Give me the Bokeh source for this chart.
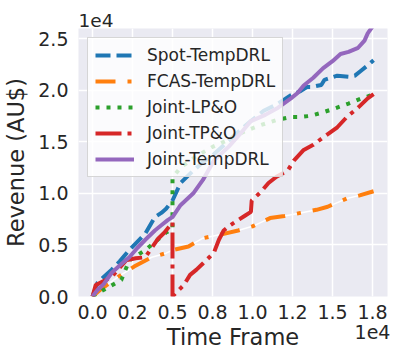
from bokeh.plotting import figure
from bokeh.models import FixedTicker, Legend, LegendItem, Label, Range1d
from bokeh.embed import file_html
from bokeh.resources import INLINE

# ---- data ----
spot_x = [0, 300, 700, 1200, 1700, 2300, 2800, 3300, 3900, 4300, 4600, 5000, 5500, 6300, 6900, 7600,
          8300, 9000, 9900, 10700, 11500, 12000, 12400, 13000, 13400, 13700, 14300, 14500, 15300,
          16000, 16400, 16800, 17200, 17568]
spot_y = [0, 1300, 1900, 2600, 3400, 4500, 5300, 6100, 7700, 8100, 8500, 9300, 11000, 12200, 13000,
          13800, 14800, 15800, 17000, 18000, 18600, 19100, 19500, 19900, 20300, 20300, 20500, 21000,
          21400, 21300, 21400, 21900, 22400, 22900]

fcas_x = [0, 600, 1600, 2600, 3700, 4600, 5000, 6000, 6900, 8000, 9100, 10000, 11100, 12000, 13000,
          14000, 14700, 15300, 15900, 16700, 17568]
fcas_y = [0, 800, 1900, 2900, 3800, 4200, 4500, 4850, 5650, 6000, 6400, 6800, 7600, 7800, 8100,
          8400, 8700, 9100, 9500, 9800, 10200]

lpo_x = [0, 300, 1000, 1800, 2300, 2800, 3300, 4000, 4600, 4999, 5000, 5500, 6500, 7500, 8500, 9500,
         10500, 11500, 12400, 13000, 13600, 14300, 15100, 16000, 16800, 17200, 17568]
lpo_y = [0, 300, 900, 1600, 3500, 4000, 4500, 5400, 6200, 6500, 11500, 12500, 13600, 14500, 15200,
         16000, 16600, 17100, 17400, 17400, 17500, 17800, 18200, 18700, 19200, 19400, 19600]

tpo_x = [0, 200, 700, 1200, 1700, 2100, 2700, 3300, 3700, 4100, 4500, 4750, 4999, 5000, 5200, 5700,
         6100, 6500, 6900, 7300, 7600, 7900, 8200, 8600, 9100, 9500, 9900, 9950, 10500, 11000, 11500,
         12200, 12600, 13200, 13800, 14400, 15300, 15900, 16600, 17200, 17568]
tpo_y = [0, 1100, 1500, 1900, 2800, 3500, 3700, 3800, 4700, 5600, 6200, 6700, 7200, 0, 340, 1100,
         2100, 2600, 3200, 3800, 4300, 5500, 6400, 6900, 7400, 7800, 8200, 9300, 10100, 11000, 11600,
         12200, 13200, 14200, 14700, 15400, 16400, 17400, 18300, 19200, 19600]

temp_x = [0, 300, 700, 1200, 1700, 2300, 2800, 3300, 3900, 4300, 4700, 5000, 5500, 6300, 6900, 7600,
          8500, 9200, 9900, 10800, 11600, 12400, 12800, 13200, 13800, 14400, 15000, 15500, 16000,
          16600, 17000, 17200, 17568]
temp_y = [0, 600, 1200, 2300, 3000, 3800, 4700, 5500, 6400, 6900, 7400, 7700, 8850, 10000, 11300,
          13200, 14500, 15700, 17000, 17600, 18300, 19200, 19700, 20450, 21200, 22100, 22800, 23500,
          23700, 24100, 24800, 25500, 26300]

x_ticks = [0, 2500, 5000, 7500, 10000, 12500, 15000, 17500]
x_tick_labels = ["0.0", "0.2", "0.5", "0.8", "1.0", "1.2", "1.5", "1.8\n1e4"]
y_ticks = [0, 5000, 10000, 15000, 20000, 25000]
y_tick_labels = ["0.0", "0.5", "1.0", "1.5", "2.0", "2.5"]
offset_text = "1e4"

names = ["Spot-TempDRL", "FCAS-TempDRL", "Joint-LP&O", "Joint-TP&O", "Joint-TempDRL"]
colors = ["#1f77b4", "#ff7f0e", "#2ca02c", "#d62728", "#9467bd"]

FONT = "DejaVu Sans"
TXT = "#262626"

p = figure(width=399, height=363, output_backend="svg", toolbar_location=None,
           x_range=Range1d(-875, 18437), y_range=Range1d(0, 25970),
           min_border_left=78, min_border_right=12, min_border_top=28, min_border_bottom=67)
p.background_fill_color = "#EAEAF2"
p.border_fill_color = "white"
p.outline_line_color = None

for ax in (p.xaxis[0], p.yaxis[0]):
    ax.axis_line_color = None
    ax.major_tick_line_color = None
    ax.minor_tick_line_color = None
    ax.major_tick_out = 0
    ax.major_tick_in = 0
    ax.minor_tick_out = 0
    ax.minor_tick_in = 0
    ax.major_label_text_font = FONT
    ax.major_label_text_font_size = "19px"
    ax.major_label_text_color = TXT
    ax.axis_label_text_font = FONT
    ax.axis_label_text_font_size = "22.5px"
    ax.axis_label_text_font_style = "normal"
    ax.axis_label_text_color = TXT

p.xaxis.ticker = FixedTicker(ticks=x_ticks)
p.yaxis.ticker = FixedTicker(ticks=y_ticks)
p.xaxis.major_label_overrides = dict(zip(x_ticks, x_tick_labels))
p.yaxis.major_label_overrides = dict(zip(y_ticks, y_tick_labels))
p.xaxis.major_label_text_line_height = 0.95
p.xaxis.axis_label = "Time Frame"
p.yaxis.axis_label = "Revenue (AU$)"
p.xaxis.major_label_standoff = 4
p.yaxis.major_label_standoff = 10
p.xaxis.axis_label_standoff = -22
p.yaxis.axis_label_standoff = 6

p.grid.grid_line_color = "white"
p.grid.grid_line_width = 1.5

r_spot = p.line(spot_x, spot_y, line_color=colors[0], line_width=4, line_dash="15 6")
p.line(fcas_x, fcas_y, line_color="white", line_width=1.5)
r_fcas = p.line(fcas_x, fcas_y, line_color=colors[1], line_width=4, line_dash="20 12 4 12")
r_lpo = p.line(lpo_x, lpo_y, line_color=colors[2], line_width=4, line_dash="4 7")
r_tpo = p.line(tpo_x, tpo_y, line_color=colors[3], line_width=4, line_dash="26 6 4 6")
r_temp = p.line(temp_x, temp_y, line_color=colors[4], line_width=4, line_join="round")

legend = Legend(items=[LegendItem(label=n, renderers=[r]) for n, r in
                       zip(names, [r_spot, r_fcas, r_lpo, r_tpo, r_temp])],
                location="top_left", margin=9, padding=7, spacing=6,
                glyph_width=39, glyph_height=20, label_height=20, label_standoff=13,
                label_text_font=FONT, label_text_font_size="17px", label_text_color=TXT,
                background_fill_color="white", background_fill_alpha=0.8,
                border_line_color="#cccccc", border_line_alpha=0.8)
p.add_layout(legend, "center")

p.add_layout(Label(x=0, y=2, x_units="screen", y_units="screen", text=offset_text, text_font=FONT,
                   text_font_size="18.5px", text_color=TXT, text_align="left",
                   text_baseline="bottom"), "above")

open("out.html", "w").write(file_html(p, INLINE))
